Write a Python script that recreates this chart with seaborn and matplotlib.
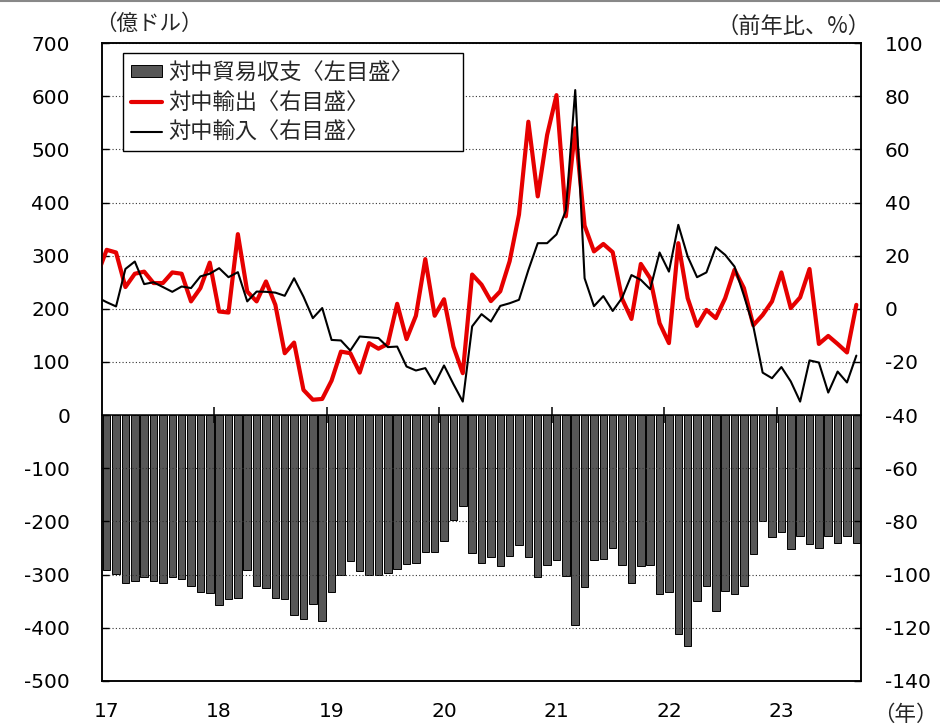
import numpy as np
import pandas as pd
import matplotlib
matplotlib.use("Agg")
import matplotlib.pyplot as plt
from matplotlib.lines import Line2D
from matplotlib.patches import Patch
import seaborn as sns

# 対中貿易収支 (億ドル), monthly Jan 2017 - Sep 2023
balance = [
    -291, -299, -316, -312, -305, -312, -316, -305, -309, -322, -332, -335,
    -357, -346, -343, -292, -322, -326, -343, -346, -376, -383, -355, -387,
    -332, -300, -274, -294, -300, -300, -296, -289, -280, -278, -257, -258,
    -237, -198, -171, -260, -279, -267, -284, -264, -244, -266, -304, -281,
    -272, -302, -394, -324, -272, -270, -250, -281, -316, -283, -282, -337,
    -333, -412, -435, -349, -322, -369, -330, -336, -322, -261, -199, -229,
    -220, -252, -227, -243, -249, -228, -241, -227, -241,
]

# 前年比 (%), first value is Dec 2016 (only its stub shows at the left edge)
exports = [
    12.8,
    22.2, 21.2, 8.2, 13.2, 14.0, 9.7, 9.7, 13.7, 13.2, 2.8, 7.8, 17.4,
    -1.0, -1.4, 28.1, 6.5, 2.8, 10.3, 1.5, -16.7, -12.7, -30.5, -34.2, -33.9,
    -27.0, -16.1, -16.7, -24.0, -12.9, -15.0, -13.2, 1.9, -11.4, -2.6, 18.7, -2.6,
    3.6, -14.2, -24.2, 12.9, 9.1, 2.9, 6.6, 17.9, 35.5, 70.4, 42.3, 65.4,
    80.4, 34.8, 67.9, 31.3, 21.6, 24.4, 21.3, 3.8, -3.8, 16.9, 11.5, -5.4,
    -12.9, 24.7, 4.0, -6.4, -0.4, -3.5, 4.0, 14.7, 7.8, -6.2, -2.3, 2.8,
    13.7, 0.3, 4.3, 15.0, -13.2, -10.2, -13.2, -16.4, 1.5,
]
imports = [
    4.3,
    2.5, 0.9, 15.0, 17.8, 9.3, 10.0, 8.2, 6.4, 8.4, 7.8, 12.2, 13.2,
    15.3, 11.9, 13.8, 2.8, 6.5, 6.4, 6.1, 4.9, 11.5, 4.6, -3.5, 0.3,
    -11.7, -11.9, -15.7, -10.4, -10.7, -11.0, -14.4, -14.2, -21.7, -23.2, -22.3, -28.3,
    -21.3, -28.3, -34.9, -6.6, -2.0, -4.8, 1.1, 2.1, 3.4, 14.6, 24.7, 24.7,
    28.0, 37.0, 82.3, 11.5, 1.0, 4.8, -0.8, 4.1, 12.7, 10.9, 7.4, 21.2,
    14.0, 31.6, 19.7, 11.9, 13.7, 23.2, 20.3, 15.9, 5.0, -6.5, -24.0, -26.1,
    -21.9, -27.3, -34.9, -19.4, -20.2, -31.5, -23.6, -27.7, -17.6,
]

year_labels = ["17", "18", "19", "20", "21", "22", "23"]
legend_labels = ["対中貿易収支〈左目盛〉", "対中輸出〈右目盛〉", "対中輸入〈右目盛〉"]

BAR_COLOR = "#575757"
RED = "#e60000"
NUM_FONT = "DejaVu Sans"

sns.set_theme(style="white")
plt.rcParams["font.family"] = ["Noto Sans CJK JP", "DejaVu Sans"]
plt.rcParams["axes.unicode_minus"] = False

months = pd.period_range("2017-01", periods=len(balance), freq="M").strftime("%Y-%m")
df = pd.DataFrame({"month": months, "balance": balance})
line_pos = np.arange(-1, len(balance))

fig = plt.figure(figsize=(9.4, 7.28), dpi=100)
fig.subplots_adjust(left=0.1085, right=0.916, top=0.9409, bottom=0.0646)
ax = fig.add_subplot(111)
ax2 = ax.twinx()

sns.barplot(data=df, x="month", y="balance", ax=ax, color=BAR_COLOR,
            saturation=1, width=0.8, edgecolor="black", linewidth=0.7,
            errorbar=None)
sns.lineplot(x=line_pos, y=exports, ax=ax2, color=RED, linewidth=3.0,
             sort=False, estimator=None, solid_joinstyle="round")
sns.lineplot(x=line_pos, y=imports, ax=ax2, color="black", linewidth=1.5,
             sort=False, estimator=None, solid_joinstyle="round")

ax.set_ylim(-500, 700)
ax2.set_ylim(-140, 100)
ax.set_xlim(-0.5, len(balance) - 0.5)
ax.set_yticks(np.arange(-500, 701, 100))
ax2.set_yticks(np.arange(-140, 101, 20))
ax.set_xticks(np.arange(0, len(balance), 12), year_labels)
ax.set_xlabel("")
ax.set_ylabel("")
ax2.set_ylabel("")

ax.tick_params(axis="y", direction="in", length=5, width=1, color="black",
               labelsize=14.5, pad=23, labelfontfamily=NUM_FONT, labelcolor="black")
ax2.tick_params(axis="y", direction="in", length=5, width=1, color="black",
                labelsize=14.5, pad=17, labelfontfamily=NUM_FONT, labelcolor="black")
ax.tick_params(axis="x", length=0, labelsize=14.5, pad=15,
               labelfontfamily=NUM_FONT, labelcolor="black")

# dotted grid, above the bars but under the lines
ax.yaxis.grid(True, color="#333333", linestyle=(0, (1, 2)), linewidth=0.8)
ax.set_axisbelow("line")

for a in (ax, ax2):
    for sp in a.spines.values():
        sp.set_color("black")
        sp.set_linewidth(1.1)

# zero line carrying the year boundary ticks
zero_frac = (0 - ax.get_ylim()[0]) / (ax.get_ylim()[1] - ax.get_ylim()[0])
sec = ax.secondary_xaxis(zero_frac)
sec.set_xticks(np.arange(11.5, len(balance), 12))
sec.tick_params(axis="x", direction="inout", length=11.5, width=1.1,
                color="black", labeltop=False, labelbottom=False)
for sp in sec.spines.values():
    sp.set_color("black")
    sp.set_linewidth(1.1)
sec.set_zorder(3)

handles = [Patch(facecolor=BAR_COLOR, edgecolor="black", linewidth=0.7),
           Line2D([], [], color=RED, linewidth=3.0),
           Line2D([], [], color="black", linewidth=1.5)]
leg = ax2.legend(handles, legend_labels, loc="upper left",
                 bbox_to_anchor=(0.0277, 0.5, 0.448, 0.484), mode="expand",
                 borderaxespad=0, frameon=True, fancybox=False, framealpha=1,
                 edgecolor="black", fontsize=16, handlelength=1.4,
                 handleheight=0.4, handletextpad=0.3, labelspacing=0.3,
                 borderpad=0.35)
leg.get_frame().set_linewidth(1.0)

fig.text(95 / 940, 1 - 24 / 728, "（億ドル）", ha="left", va="center", fontsize=15.5)
fig.text(870 / 940, 1 - 26 / 728, "（前年比、%）", ha="right", va="center", fontsize=16)
fig.text(905 / 940, 1 - 715 / 728, "（年）", ha="center", va="center", fontsize=15.5)

fig.add_artist(Line2D([0, 1], [0.999, 0.999], transform=fig.transFigure,
                      color="#888888", linewidth=1.5))

fig.savefig("out.png", dpi=100)
